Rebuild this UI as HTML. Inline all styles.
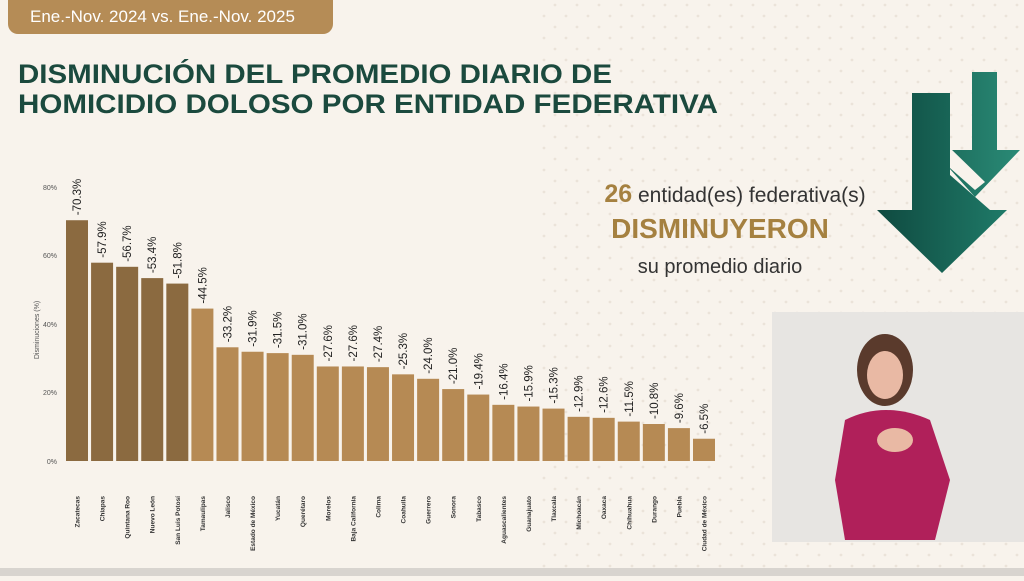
<!DOCTYPE html><html><head><meta charset="utf-8"><style>
body{margin:0;width:1024px;height:576px;overflow:hidden;background:#f8f3ec;font-family:"Liberation Sans",sans-serif}
</style></head><body>
<svg width="1024" height="576" viewBox="0 0 1024 576" xmlns="http://www.w3.org/2000/svg">
<defs>
<pattern id="dots" width="22" height="22" patternUnits="userSpaceOnUse"><circle cx="5" cy="5" r="1.4" fill="#ebe3d9"/><circle cx="16" cy="16" r="1.4" fill="#ebe3d9"/></pattern>
<linearGradient id="ga" x1="0" x2="1"><stop offset="0" stop-color="#0f4a40"/><stop offset="1" stop-color="#1f7a68"/></linearGradient>
<linearGradient id="gb" x1="0" x2="1"><stop offset="0" stop-color="#1b6a5a"/><stop offset="1" stop-color="#2a8a76"/></linearGradient>
</defs>
<rect width="1024" height="576" fill="#f8f3ec"/>
<rect x="540" y="0" width="484" height="576" fill="url(#dots)"/>
<rect x="0" y="568" width="1024" height="8" fill="#d8d4cf"/>
<rect x="8" y="-10" width="325" height="44" rx="10" fill="#b58c56"/>
<text x="30" y="22" font-size="17" fill="#fff">Ene.-Nov. 2024 vs. Ene.-Nov. 2025</text>
<text x="18" y="83" font-size="27" font-weight="bold" fill="#1b4a3e" textLength="594" lengthAdjust="spacingAndGlyphs">DISMINUCIÓN DEL PROMEDIO DIARIO DE</text>
<text x="18" y="113" font-size="27" font-weight="bold" fill="#1b4a3e" textLength="700" lengthAdjust="spacingAndGlyphs">HOMICIDIO DOLOSO POR ENTIDAD FEDERATIVA</text>
<!-- arrows -->
<polygon points="972,72 997,72 997,150 1020,150 975,197 933,150 972,150" fill="url(#gb)"/>
<polygon points="912,93 950,93 950,175 990,210 1007,210 942,273 877,210 912,210" fill="url(#ga)"/>
<polygon points="950,148 985,182 975,190 950,168" fill="#f8f3ec"/>
<text x="735" y="202" font-size="21" text-anchor="middle" fill="#333"><tspan fill="#a58140" font-weight="bold" font-size="25">26</tspan> entidad(es) federativa(s)</text>
<text x="720" y="238" font-size="28" font-weight="bold" text-anchor="middle" fill="#a58140">DISMINUYERON</text>
<text x="720" y="273" font-size="20" text-anchor="middle" fill="#333">su promedio diario</text>
<!-- inset -->
<rect x="772" y="312" width="252" height="230" fill="#e7e5e2"/>
<ellipse cx="885" cy="370" rx="28" ry="36" fill="#5a3a2c"/>
<ellipse cx="885" cy="375" rx="18" ry="24" fill="#e9b9a4"/>
<path d="M845,420 Q885,400 930,420 L950,480 L935,540 L845,540 L835,480 Z" fill="#b0205a"/>
<ellipse cx="895" cy="440" rx="18" ry="12" fill="#e9b9a4"/>
<!-- chart -->
<g font-size="7" fill="#555">
<text x="57" y="190" text-anchor="end">80%</text>
<text x="57" y="258" text-anchor="end">60%</text>
<text x="57" y="327" text-anchor="end">40%</text>
<text x="57" y="395" text-anchor="end">20%</text>
<text x="57" y="464" text-anchor="end">0%</text>
<text transform="translate(39,330) rotate(-90)" text-anchor="middle">Disminuciones (%)</text>
</g>
<g id="bars"></g>
</svg>
<script>
var d=[["Zacatecas",70.3],["Chiapas",57.9],["Quintana Roo",56.7],["Nuevo León",53.4],["San Luis Potosí",51.8],["Tamaulipas",44.5],["Jalisco",33.2],["Estado de México",31.9],["Yucatán",31.5],["Querétaro",31.0],["Morelos",27.6],["Baja California",27.6],["Colima",27.4],["Coahuila",25.3],["Guerrero",24.0],["Sonora",21.0],["Tabasco",19.4],["Aguascalientes",16.4],["Guanajuato",15.9],["Tlaxcala",15.3],["Michoacán",12.9],["Oaxaca",12.6],["Chihuahua",11.5],["Durango",10.8],["Puebla",9.6],["Ciudad de México",6.5]];
var g=document.getElementById("bars"),s="";
d.forEach(function(e,i){var x=66+i*25.08,h=e[1]*3.425,y=461-h,c=i<5?"#8b6a40":"#b68a54";
s+='<rect x="'+x+'" y="'+y+'" width="22" height="'+h+'" fill="'+c+'"/>';
s+='<text transform="translate('+(x+15)+','+(y-5)+') rotate(-90)" font-size="11.5" fill="#222">-'+e[1].toFixed(1)+'%</text>';
s+='<text transform="translate('+(x+13.5)+',496) rotate(-90)" text-anchor="end" font-size="6.5" font-weight="bold" fill="#333">'+e[0]+'</text>';});
g.innerHTML=s;
</script>
</body></html>
